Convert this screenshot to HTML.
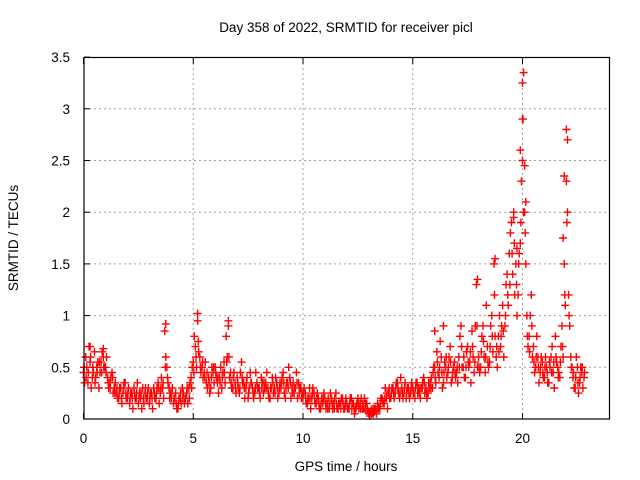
<!DOCTYPE html>
<html><head><meta charset="utf-8"><style>
body{margin:0;background:#fff}
svg{display:block;font-family:"Liberation Sans",sans-serif}
</style></head><body>
<svg id="chart" width="640" height="480" viewBox="0 0 640 480" xmlns="http://www.w3.org/2000/svg">
<text x="346" y="32" font-size="13.5" text-anchor="middle" fill="#000">Day 358 of 2022, SRMTID for receiver picl</text>
<text transform="translate(18,238) rotate(-90)" font-size="13.5" text-anchor="middle" fill="#000">SRMTID / TECUs</text>
<text x="346" y="471" font-size="13.5" text-anchor="middle" fill="#000">GPS time / hours</text>
<g id="grid"></g><g id="ticks"></g><g id="points"></g>
<rect x="84" y="57.5" width="525.5" height="361.5" fill="none" stroke="#000" stroke-width="1.2"/>
</svg>
<script>
const yTicks=[0,0.5,1,1.5,2,2.5,3,3.5];
const yTickLabels=["0","0.5","1","1.5","2","2.5","3","3.5"];
const xTicks=[0,5,10,15,20];
const xTickLabels=["0","5","10","15","20"];
const seriesAStart=0.0, seriesBStart=0.05, seriesCStart=0.025, seriesStep=0.1;
const seriesA=[
0.45,0.6,0.35,0.55,0.4,0.65,0.5,0.3,0.55,0.6,
0.5,0.4,0.35,0.45,0.3,0.25,0.2,0.3,0.25,0.35,
0.2,0.15,0.25,0.3,0.2,0.15,0.2,0.3,0.25,0.2,
0.15,0.25,0.3,0.2,0.35,0.25,0.3,0.85,0.5,0.3,
0.2,0.15,0.25,0.1,0.2,0.3,0.15,0.25,0.3,0.4,
0.55,0.7,0.95,0.6,0.5,0.45,0.35,0.4,0.3,0.45,
0.5,0.35,0.4,0.3,0.55,0.8,0.9,0.45,0.3,0.35,
0.4,0.25,0.55,0.35,0.3,0.2,0.45,0.3,0.25,0.35,
0.3,0.4,0.25,0.35,0.3,0.2,0.4,0.3,0.35,0.25,
0.3,0.45,0.2,0.35,0.4,0.3,0.25,0.45,0.35,0.3,
0.2,0.25,0.15,0.3,0.2,0.25,0.15,0.2,0.1,0.15,
0.2,0.15,0.1,0.2,0.15,0.25,0.1,0.15,0.2,0.1,
0.15,0.1,0.2,0.15,0.1,0.2,0.15,0.1,0.2,0.15,
0.05,0.08,0.05,0.1,0.15,0.1,0.2,0.15,0.2,0.25,
0.2,0.3,0.25,0.35,0.2,0.3,0.25,0.2,0.3,0.25,
0.3,0.2,0.35,0.25,0.3,0.4,0.3,0.25,0.35,0.3,
0.5,0.65,0.4,0.6,0.35,0.5,0.45,0.7,0.4,0.55,
0.45,0.6,0.9,0.5,0.4,0.7,0.55,0.85,0.45,1.3,
0.6,0.5,0.9,0.45,0.7,0.55,1.0,1.5,0.6,0.8,
0.7,1.1,0.9,1.4,1.6,1.9,2.0,1.5,1.2,1.7,
2.5,2.0,1.0,0.8,1.2,0.7,0.5,0.6,0.45,0.55,
0.4,0.5,0.35,0.6,0.45,0.8,0.5,0.4,0.9,1.5,
2.3,1.2,0.6,0.4,0.3,0.5,0.35,0.45,0.4];
const seriesB=[
0.35,0.5,0.7,0.3,0.45,0.4,0.55,0.45,0.65,0.5,
0.6,0.3,0.4,0.25,0.35,0.2,0.3,0.15,0.35,0.2,
0.3,0.25,0.1,0.2,0.35,0.25,0.1,0.15,0.2,0.3,
0.25,0.1,0.2,0.3,0.15,0.4,0.2,0.6,0.35,0.25,
0.3,0.2,0.1,0.2,0.15,0.25,0.2,0.15,0.35,0.5,
0.8,0.5,0.65,0.45,0.4,0.55,0.3,0.25,0.5,0.35,
0.4,0.25,0.5,0.45,0.35,0.6,0.4,0.3,0.45,0.25,
0.3,0.45,0.35,0.2,0.4,0.3,0.35,0.2,0.45,0.3,
0.2,0.35,0.3,0.45,0.2,0.3,0.25,0.4,0.2,0.35,
0.4,0.25,0.35,0.5,0.2,0.35,0.3,0.2,0.3,0.25,
0.3,0.15,0.2,0.1,0.3,0.15,0.25,0.1,0.2,0.25,
0.1,0.2,0.25,0.1,0.2,0.1,0.15,0.2,0.1,0.2,
0.1,0.2,0.15,0.05,0.15,0.1,0.2,0.1,0.15,0.08,
0.03,0.1,0.07,0.05,0.1,0.2,0.15,0.3,0.1,0.2,
0.3,0.2,0.35,0.25,0.4,0.2,0.35,0.3,0.2,0.35,
0.25,0.35,0.3,0.2,0.35,0.25,0.2,0.3,0.4,0.5,
0.35,0.45,0.75,0.3,0.55,0.4,0.6,0.35,0.5,0.4,
0.35,0.8,0.5,0.4,0.65,0.5,0.35,0.6,0.9,0.5,
0.45,0.8,0.6,1.1,0.5,0.9,0.65,0.8,0.5,1.0,
0.9,0.6,1.3,1.1,1.8,1.4,1.2,1.0,1.6,2.3,
3.35,1.5,0.7,1.0,0.6,0.45,0.8,0.35,0.6,0.4,
0.6,0.35,0.5,0.7,0.3,0.55,0.45,0.7,0.6,1.1,
2.7,0.9,0.5,0.3,0.6,0.25,0.5,0.3];
const seriesC=[
0.5,0.4,0.45,0.6,0.5,0.35,0.45,0.55,0.45,0.5,
0.45,0.35,0.3,0.4,0.25,0.3,0.25,0.2,0.3,0.25,
0.25,0.2,0.2,0.25,0.25,0.2,0.25,0.2,0.3,0.25,
0.2,0.2,0.25,0.25,0.3,0.3,0.35,0.5,0.4,0.2,
0.25,0.2,0.15,0.15,0.25,0.2,0.2,0.3,0.2,0.3,
0.45,0.6,0.75,0.5,0.55,0.4,0.45,0.35,0.4,0.5,
0.45,0.4,0.35,0.4,0.45,0.55,0.6,0.35,0.4,0.3,
0.35,0.3,0.4,0.3,0.35,0.25,0.35,0.25,0.3,0.3,
0.25,0.3,0.35,0.3,0.25,0.3,0.35,0.25,0.3,0.3,
0.35,0.35,0.3,0.3,0.35,0.25,0.3,0.35,0.25,0.2,
0.25,0.2,0.2,0.2,0.25,0.2,0.2,0.15,0.15,0.2,
0.15,0.1,0.15,0.15,0.1,0.15,0.15,0.1,0.15,0.15,
0.1,0.15,0.1,0.1,0.12,0.15,0.1,0.15,0.1,0.1,
0.06,0.05,0.1,0.08,0.12,0.15,0.18,0.2,0.25,0.3,
0.25,0.25,0.3,0.3,0.25,0.25,0.3,0.25,0.25,0.3,
0.25,0.3,0.25,0.3,0.3,0.35,0.25,0.35,0.3,0.45,
0.4,0.55,0.5,0.45,0.45,0.6,0.5,0.55,0.45,0.45,
0.5,0.5,0.7,0.6,0.5,0.55,0.65,0.7,0.55,0.9,
0.5,0.65,0.75,0.6,0.55,0.7,0.8,1.2,0.7,0.65,
0.8,0.85,1.0,1.2,1.3,1.6,1.7,1.3,1.5,1.9,
2.9,1.8,0.8,0.65,0.9,0.55,0.6,0.5,0.5,0.45,
0.5,0.45,0.55,0.45,0.55,0.6,0.4,0.55,0.7,1.2,
1.9,1.0,0.5,0.45,0.4,0.35,0.4,0.5,0.45];
const extraTimes=[20.0,20.0,19.9,20.1,20.15,22.0,21.9,22.05,21.85,20.05,19.6,19.75,5.2,6.6,3.75,17.95,18.75,16.0,16.4,0.3,0.9];
const extraValues=[3.25,2.9,2.6,2.45,2.1,2.8,2.35,2.0,1.75,2.0,1.95,1.65,1.02,0.95,0.92,1.35,1.55,0.85,0.9,0.7,0.68];

const X0=83.5,XS=21.95,Y0=419,YS=103.4;
function xs(t){return X0+t*XS;}
function ys(v){return Y0-v*YS;}
const NS="http://www.w3.org/2000/svg";
const grid=document.getElementById('grid'),ticks=document.getElementById('ticks'),pts=document.getElementById('points');
function mk(tag,attrs,parent){const e=document.createElementNS(NS,tag);for(const k in attrs)e.setAttribute(k,attrs[k]);parent.appendChild(e);return e;}
yTicks.forEach((v,i)=>{
  const y=ys(v);
  if(i>0&&i<yTicks.length-1){const g=mk('line',{x1:84,x2:609,y1:y,y2:y,stroke:'#a0a0a0','stroke-dasharray':'2,3','stroke-width':1},grid);
  
  }
  mk('line',{x1:84,x2:90,y1:y,y2:y,stroke:'#000'},ticks);
  const t=mk('text',{x:70,y:y+5,'font-size':13.5,'text-anchor':'end',fill:'#000'},ticks);
  t.textContent=yTickLabels[i];
  
  
});
xTicks.forEach((v,i)=>{
  const x=xs(v);
  if(i>0){const g=mk('line',{x1:x,x2:x,y1:58,y2:419,stroke:'#a0a0a0','stroke-dasharray':'2,3','stroke-width':1},grid);
  
  }
  mk('line',{x1:x,x2:x,y1:413,y2:419,stroke:'#000'},ticks);
  mk('line',{x1:x,x2:x,y1:58,y2:64,stroke:'#000'},ticks);
  const t=mk('text',{x:x,y:443,'font-size':13.5,'text-anchor':'middle',fill:'#000'},ticks);
  t.textContent=xTickLabels[i];
  
  
});
let d='';
function plus(t,v){const x=xs(t),y=ys(v);d+=`M${(x-4).toFixed(1)} ${y.toFixed(1)}h8M${x.toFixed(1)} ${(y-4).toFixed(1)}v8`;}
seriesA.forEach((v,i)=>plus(seriesAStart+i*seriesStep,v));
seriesB.forEach((v,i)=>plus(seriesBStart+i*seriesStep,v));
seriesC.forEach((v,i)=>plus(seriesCStart+i*seriesStep,v));
extraTimes.forEach((t,i)=>plus(t,extraValues[i]));
const p=mk('path',{d:d,stroke:'#ff0000','stroke-width':1.4,fill:'none'},pts);


</script>
</body></html>
